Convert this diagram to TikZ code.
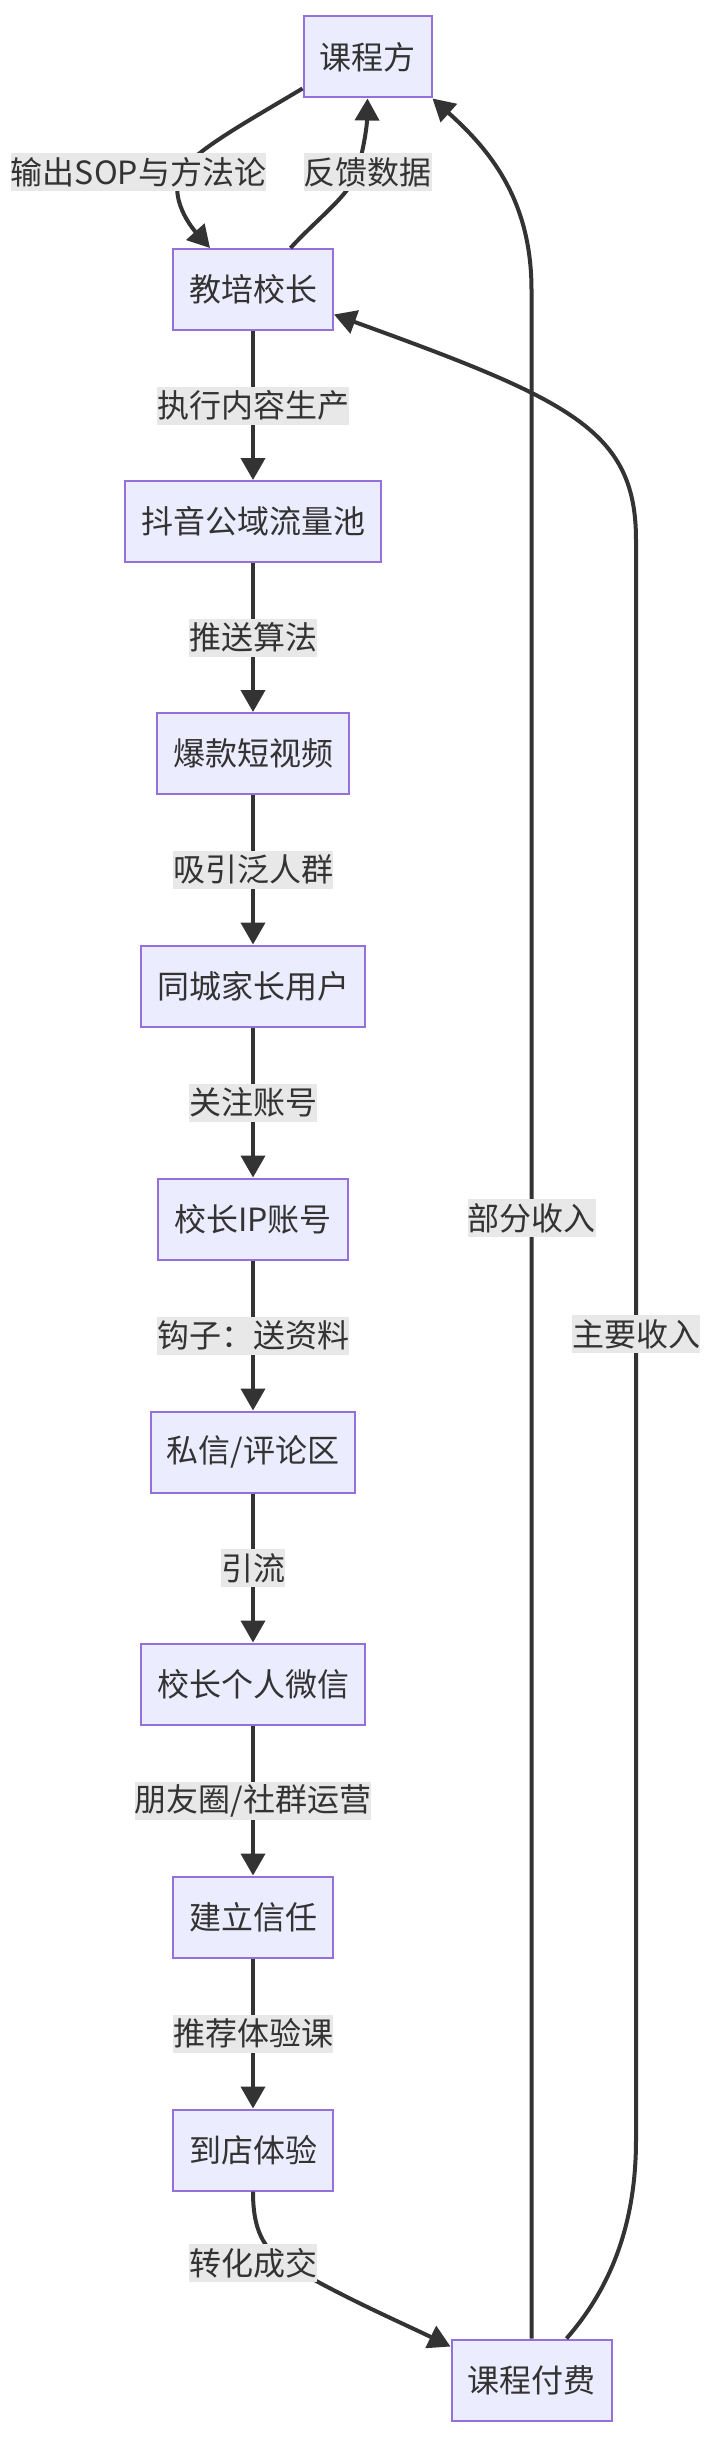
\documentclass[tikz,border=0pt]{standalone}
\usepackage{fontspec}
\newfontfamily\cjk{Noto Sans CJK SC}
\usetikzlibrary{arrows.meta,calc}
\definecolor{nodefill}{HTML}{ECECFF}
\definecolor{nodeline}{HTML}{9370DB}
\definecolor{edgecol}{HTML}{333333}
\definecolor{lblbg}{HTML}{E8E8E8}
\begin{document}
\begin{tikzpicture}[x=1pt,y=-1pt,
  box/.style={draw=nodeline, fill=nodefill, line width=2pt, minimum height=81pt,
    inner xsep=16pt, inner ysep=0pt, font=\cjk\fontsize{32}{38}\selectfont, text=edgecol},
  lbl/.style={fill=lblbg, inner sep=0pt, minimum height=38pt,
    font=\cjk\fontsize{32}{38}\selectfont, text=edgecol},
  edge/.style={draw=edgecol, line width=4pt, -{Triangle[length=22pt,width=24pt]}}]
\useasboundingbox[fill=white] (0,0) rectangle (716,2438);

\node[box] (kc) at (367.5,57) {课程方};
\node[box] (jp) at (253,289.5) {教培校长};
\node[box] (dy) at (253,521.5) {抖音公域流量池};
\node[box] (bk) at (253,753.5) {爆款短视频};
\node[box] (tc) at (253,986) {同城家长用户};
\node[box] (ip) at (253,1219) {校长IP账号};
\node[box] (sx) at (253,1452) {私信/评论区};
\node[box] (wx) at (253,1684) {校长个人微信};
\node[box] (xr) at (253,1917) {建立信任};
\node[box] (dd) at (253,2150) {到店体验};
\node[box] (kf) at (531.5,2380) {课程付费};

% straight edges
\draw[edge] (jp) -- node[lbl] {执行内容生产} (dy);
\draw[edge] (dy) -- node[lbl] {推送算法} (bk);
\draw[edge] (bk) -- node[lbl] {吸引泛人群} (tc);
\draw[edge] (tc) -- node[lbl] {关注账号} (ip);
\draw[edge] (ip) -- node[lbl] {钩子：送资料} (sx);
\draw[edge] (sx) -- node[lbl] {引流} (wx);
\draw[edge] (wx) -- node[lbl] {朋友圈/社群运营} (xr);
\draw[edge] (xr) -- node[lbl] {推荐体验课} (dd);

% curved edges
\draw[edge] ($(kc.south west)+(0,-10)$) .. controls (250,120) and (195,150) .. (181,172)
  .. controls (168,198) and (192,228) .. ($(jp.north west)+(38,0)$);
\draw[edge] ($(jp.north west)+(118.5,0)$) .. controls (318,218) and (350,195) .. (357,172)
  .. controls (364,148) and (367,125) .. (kc.south);
\draw[edge] (kf.north) -- (531.5,290) .. controls (531.5,200) and (490,150) .. (kc.south east);
\draw[edge] ($(kf.north west)+(116,0)$) .. controls (600,2300) and (636,2240) .. (636,2140)
  -- (636,540) .. controls (636,430) and (570,400) .. ($(jp.east)+(0,25)$);
\draw[edge] (dd.south) .. controls (253,2228) and (262,2250) .. (290,2266)
  .. controls (340,2296) and (400,2322) .. ($(kf.north west)+(0,8)$);

% labels on curved edges
\node[lbl] (l1) at (138.5,172) {输出SOP与方法论};
\node[lbl] (l2) at (367.5,172) {反馈数据};
\node[lbl] (l3) at (531.5,1218) {部分收入};
\node[lbl] (l4) at (636,1334) {主要收入};
\node[lbl] (l5) at (253,2263) {转化成交};
\end{tikzpicture}
\end{document}
